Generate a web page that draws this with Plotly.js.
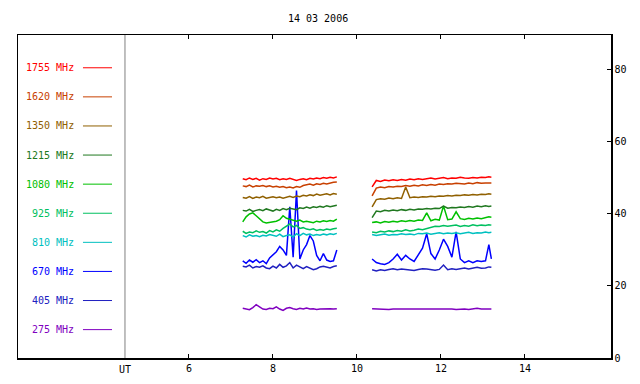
<!DOCTYPE html>
<html>
<head>
<meta charset="utf-8">
<script src="https://cdn.plot.ly/plotly-3.0.1.min.js"></script>
<style>html,body{margin:0;padding:0;background:#fff;}#chart{width:640px;height:384px;}</style>
</head>
<body>
<div id="chart"></div>
<script>
// Time (UT hours): segment 1, a gap, segment 2
const timesSeg1 = [7.28,7.36,7.44,7.52,7.60,7.68,7.76,7.84,7.92,8.00,8.08,8.16,8.24,8.32,8.40,8.48,8.56,8.64,8.72,8.80,8.88,8.96,9.04,9.12,9.20,9.28,9.36,9.44,9.52];
const timesGap = [9.9];
const timesSeg2 = [10.36,10.46,10.56,10.66,10.76,10.86,10.96,11.06,11.16,11.26,11.36,11.46,11.56,11.66,11.76,11.86,11.96,12.06,12.16,12.26,12.36,12.46,12.56,12.66,12.76,12.86,12.96,13.06,13.14,13.20];

const freqLabels = ["1755 MHz","1620 MHz","1350 MHz","1215 MHz","1080 MHz","925 MHz","810 MHz","670 MHz","405 MHz","275 MHz"];
const freqColors = ["#ff0000","#c84000","#906000","#207820","#00c000","#00c060","#00c0c0","#0000ff","#2020c0","#8000c0"];

const f1755a = [49.8,49.5,50.0,49.6,49.9,49.4,49.8,49.6,50.0,49.7,49.9,49.5,49.8,49.6,49.9,49.7,49.3,49.6,49.8,49.5,49.9,49.7,50.0,49.8,50.1,49.9,50.2,50.0,50.3];
const f1755b = [47.5,49.3,49.0,49.4,49.2,49.5,49.3,49.6,49.4,49.7,49.5,49.8,49.6,49.9,50.0,49.7,49.9,50.1,49.8,50.0,49.9,50.2,50.0,49.9,50.1,50.0,50.2,50.1,50.3,50.2];
const f1620a = [47.8,47.6,48.0,47.5,47.8,47.7,47.9,47.6,47.8,47.5,47.7,47.4,47.6,47.3,47.5,47.2,47.6,47.4,47.9,48.1,48.3,48.0,48.4,48.2,48.5,48.3,48.6,48.8,48.9];
const f1620b = [45.0,47.2,47.5,47.3,47.6,47.5,47.7,47.6,47.9,47.7,48.0,47.8,48.1,47.9,48.2,48.0,48.3,48.2,48.4,48.3,48.5,48.4,48.3,48.6,48.4,48.7,48.5,48.6,48.5,48.6];
const f1350a = [44.6,44.4,44.8,44.3,44.7,44.5,44.9,44.4,44.6,44.8,44.5,44.7,44.4,44.6,44.9,44.6,45.0,44.8,45.2,45.0,45.3,45.1,45.5,45.2,45.4,45.6,45.3,45.7,45.5];
const f1350b = [42.0,44.0,44.2,44.1,44.4,44.2,44.5,44.3,47.5,44.5,44.7,44.6,44.8,44.7,44.9,44.8,45.0,44.9,45.1,45.0,45.2,45.1,45.3,45.2,45.4,45.3,45.5,45.4,45.6,45.5];
const f1215a = [41.0,40.8,41.3,40.7,41.0,41.2,40.9,41.4,41.1,40.8,41.3,41.0,41.5,41.2,41.6,41.3,41.2,41.7,41.5,41.9,41.6,42.0,41.8,42.1,41.9,42.3,42.0,42.2,42.4];
const f1215b = [39.0,40.8,40.6,41.0,40.8,41.1,40.9,41.2,41.0,41.3,41.1,41.4,41.3,41.5,41.4,41.6,41.5,42.2,41.6,41.8,41.7,41.9,41.8,42.1,41.9,42.2,42.0,42.3,42.1,42.2];
const f1080a = [37.8,39.2,40.0,40.3,39.5,38.6,37.8,37.5,37.6,37.9,38.0,38.4,39.5,38.8,38.6,38.2,38.0,38.3,37.8,38.0,37.9,37.6,38.0,37.8,38.1,37.9,38.2,38.0,38.6];
const f1080b = [37.6,37.8,37.5,37.9,37.7,38.0,37.8,38.1,37.9,38.2,38.0,38.3,38.2,40.3,38.1,38.5,38.3,42.2,38.4,38.6,40.6,38.7,38.5,38.8,38.6,38.9,38.7,39.0,39.2,39.1];
const f925a = [35.2,34.6,35.0,34.8,35.3,34.9,35.1,34.7,35.4,35.0,35.6,35.2,36.0,36.5,37.2,36.4,36.8,36.0,36.2,35.8,35.6,35.9,35.4,35.7,35.5,35.8,35.6,35.9,36.0];
const f925b = [35.0,34.8,35.2,35.0,35.3,35.1,35.4,35.2,35.6,35.3,35.5,35.8,35.6,36.0,36.4,36.6,36.5,36.8,36.6,36.7,36.9,36.5,36.8,36.6,37.0,36.7,36.9,36.8,37.0,36.9];
const f810a = [34.0,33.6,34.2,33.8,34.0,33.7,34.1,33.9,34.3,34.0,33.8,34.4,33.7,34.0,34.2,33.6,34.5,34.0,34.6,34.2,34.4,34.0,34.3,34.1,34.4,34.2,34.5,34.3,34.6];
const f810b = [34.3,34.0,34.2,34.4,34.1,34.3,34.2,34.5,34.3,34.4,34.2,34.6,34.5,34.7,34.4,34.6,34.8,34.5,34.7,34.6,34.8,34.5,34.7,34.9,34.6,34.8,34.7,35.0,34.8,34.9];
const f670a = [27.0,26.3,27.2,26.6,27.3,26.5,27.0,26.2,27.8,28.8,29.5,31.0,30.0,28.5,42.0,28.0,46.5,27.5,30.0,31.5,34.0,32.5,28.5,27.0,29.0,27.2,26.8,27.0,30.0];
const f670b = [27.5,26.5,26.2,26.0,26.5,27.5,28.8,27.2,28.5,27.5,26.8,28.5,30.5,34.5,29.0,27.5,30.0,33.0,31.0,28.0,35.0,27.5,26.5,27.0,26.5,27.0,26.8,27.0,31.5,27.5];
const f405a = [25.5,25.3,25.8,25.0,25.4,25.2,25.6,25.0,24.8,25.5,25.0,26.0,25.2,25.6,26.5,25.0,25.8,25.2,24.8,25.4,25.0,24.5,24.8,25.3,25.5,25.2,25.0,25.4,25.6];
const f405b = [24.5,24.2,24.5,24.3,24.6,24.8,24.5,24.7,24.6,24.5,24.3,24.6,24.8,24.7,24.5,24.4,24.6,25.8,24.5,24.8,24.6,24.8,25.0,24.7,24.9,25.2,24.9,25.0,25.3,25.2];
const f275a = [13.8,13.6,13.4,14.0,14.8,14.2,13.6,13.5,13.8,13.7,14.2,13.6,13.2,13.8,14.0,13.7,13.5,13.8,13.6,13.9,13.6,13.7,13.5,13.6,13.7,13.6,13.7,13.6,13.7];
const f275b = [13.7,13.6,13.5,13.6,13.5,13.6,13.7,13.6,13.6,13.7,13.6,13.6,13.7,13.6,13.6,13.5,13.6,13.6,13.7,13.6,13.5,13.6,13.6,13.5,13.7,13.8,13.6,13.6,13.5,13.6];

const yTickVals = [0,20,40,60,80];
const xTickVals = [6,8,10,12,14];

const seriesA = [f1755a,f1620a,f1350a,f1215a,f1080a,f925a,f810a,f670a,f405a,f275a];
const seriesB = [f1755b,f1620b,f1350b,f1215b,f1080b,f925b,f810b,f670b,f405b,f275b];

const xs = timesSeg1.concat(timesGap, timesSeg2);
const FONT = "DejaVu Sans Mono, monospace";

const traces = [];
for (let i = freqLabels.length - 1; i >= 0; i--) {
  traces.push({
    type: "scatter", mode: "lines",
    x: xs,
    y: seriesA[i].concat([null], seriesB[i]),
    line: {color: freqColors[i], width: 1.5, shape: "linear"},
    connectgaps: false,
    hoverinfo: "skip",
    showlegend: false
  });
}

const annotations = [];
const shapes = [];
const legTop = 80.6, legStep = 8.08;
freqLabels.forEach((lab, i) => {
  const yy = legTop - i * legStep;
  annotations.push({
    x: 3.31, y: yy, xref: "x", yref: "y", text: lab, showarrow: false,
    xanchor: "right", yanchor: "middle",
    font: {family: FONT, size: 10, color: freqColors[i]}
  });
  shapes.push({
    type: "line", xref: "x", yref: "y", x0: 3.476, x1: 4.167, y0: yy, y1: yy,
    line: {color: freqColors[i], width: 1}
  });
});
shapes.push({type: "line", xref: "x", yref: "paper", x0: 4.476, x1: 4.476, y0: 0, y1: 1,
  line: {color: "#808080", width: 1}});
annotations.push({x: 4.476, y: 0, xref: "x", yref: "paper", text: "UT", showarrow: false,
  xanchor: "center", yanchor: "top", yshift: -4, font: {family: FONT, size: 10, color: "#000"}});

const layout = {
  width: 640, height: 384,
  margin: {l: 18, r: 29, t: 35, b: 26, pad: 0},
  paper_bgcolor: "#fff", plot_bgcolor: "#fff",
  title: {text: "14 03 2006", x: 0.497, xref: "container", xanchor: "center",
          y: 0.953, yref: "container", yanchor: "middle",
          font: {family: FONT, size: 10, color: "#000"}},
  xaxis: {
    range: [1.929, 16.048], tickvals: xTickVals, ticktext: xTickVals.map(String),
    ticks: "inside", ticklen: 4, tickcolor: "#000", tickwidth: 1,
    showline: true, linecolor: "#000", linewidth: 1.5, mirror: "ticks",
    showgrid: false, zeroline: false,
    tickfont: {family: FONT, size: 10, color: "#000"}
  },
  yaxis: {
    side: "right", range: [0, 89.7], tickvals: yTickVals, ticktext: yTickVals.map(String),
    ticks: "inside", ticklen: 4, tickcolor: "#000", tickwidth: 1,
    showline: true, linecolor: "#000", linewidth: 1.5, mirror: true,
    showgrid: false, zeroline: false,
    tickfont: {family: FONT, size: 10, color: "#000"}
  },
  annotations: annotations,
  shapes: shapes,
  showlegend: false
};

Plotly.newPlot("chart", traces, layout, {staticPlot: true, displayModeBar: false});
</script>
</body>
</html>
